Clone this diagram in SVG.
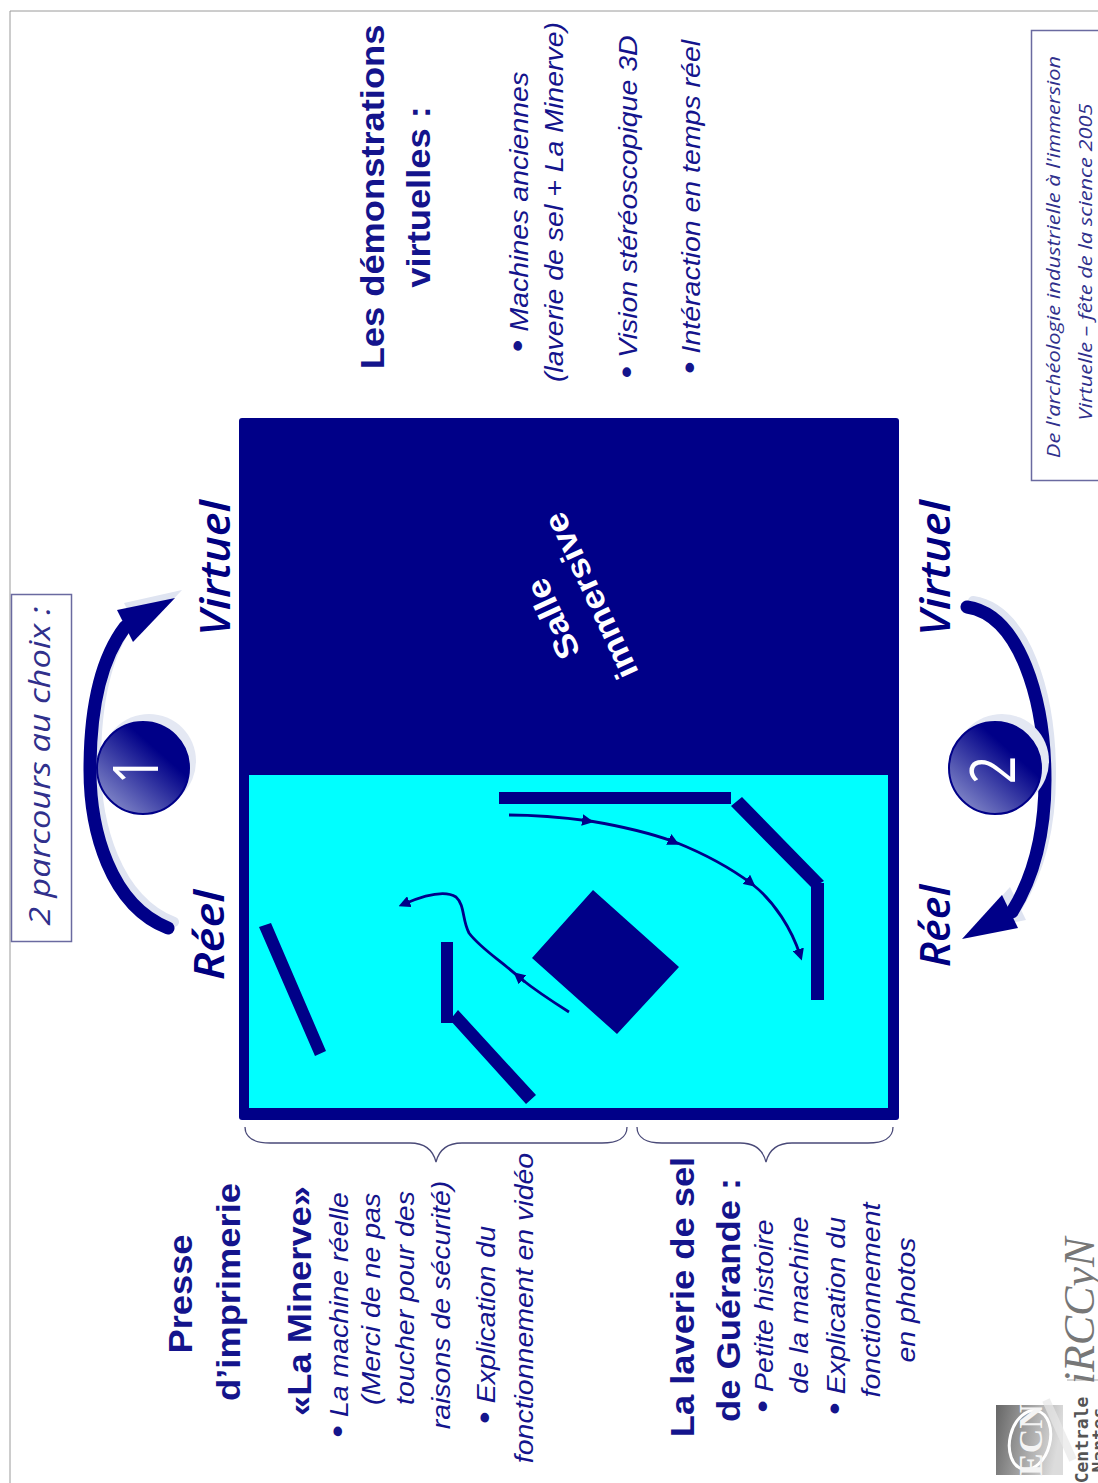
<svg xmlns="http://www.w3.org/2000/svg" width="1098" height="1483" viewBox="0 0 1098 1483">
<style>
text{fill:#14148c;text-anchor:middle}
.h{font:bold 33px "Liberation Sans",Arial,sans-serif}
.b{font:italic 25px "Liberation Sans",Arial,sans-serif}
.d{font-size:32px;font-style:normal}
.v{font:italic 600 41px "Open Sans",sans-serif;fill:#000080}
.n{font:italic 30px "Open Sans",sans-serif;fill:#30308c}
.f{font:italic 18.500px "Open Sans",sans-serif;fill:#30308c}
.navy{fill:#000088}
.sh{fill:none;stroke:#dfe4f1;stroke-width:10;stroke-linecap:round}
.ar{fill:none;stroke:#000088;stroke-width:13;stroke-linecap:round}
.thin{fill:none;stroke:#000088;stroke-width:2.800}
.br{fill:none;stroke:#4a4a78;stroke-width:1.300}
.box{fill:#fff;stroke:#6a6aa0;stroke-width:1.500}
.room{font:bold 33px "Liberation Sans",sans-serif;fill:#fff}
.dg{font:62px "Open Sans",sans-serif;fill:#fff}
</style>
<defs>
<linearGradient id="ball" x1="0.85" y1="0.1" x2="0.1" y2="0.95"><stop offset="0.25" stop-color="#000088"/><stop offset="1" stop-color="#8a90cc"/></linearGradient>
<linearGradient id="logo" x1="0" y1="0" x2="1" y2="0.2"><stop offset="0" stop-color="#666"/><stop offset="1" stop-color="#dcdcdc"/></linearGradient>
<marker id="tri" viewBox="0 0 10 10" refX="5" refY="5" markerWidth="4.200" markerHeight="4.200" orient="auto" markerUnits="strokeWidth"><path d="M0 0L10 5L0 10z" fill="#000088"/></marker>
</defs>
<rect width="1098" height="1483" fill="#fff"/>
<path d="M10 1483V11H1098" fill="none" stroke="#9a9a9a" stroke-width="1"/>

<g id="title-box"><rect class="box" x="11.500" y="594.500" width="60" height="347"/><text class="n" transform="translate(50 766) rotate(-90) scale(1.15 1)">2 parcours au choix :</text></g>
<g id="footer-box"><rect class="box" x="1031.500" y="30.500" width="70" height="450"/><text class="f" transform="translate(1060 257) rotate(-90) scale(1.18 1)">De l'archéologie industrielle à l'immersion</text><text class="f" transform="translate(1092 262) rotate(-90) scale(1.18 1)">Virtuelle – fête de la science 2005</text></g>

<g id="room">
<rect class="navy" x="239" y="418" width="660" height="702" rx="3"/>
<rect x="249" y="775" width="639" height="333" fill="#00ffff"/>
<text class="room" transform="translate(563 614) rotate(-115) scale(1.1 1)">Salle</text>
<text class="room" transform="translate(601 591) rotate(-115) scale(1.1 1)">immersive</text>
<path class="navy" d="M499 792H731V804H499zM731 806L742 797L824 881L812 888zM811 883H824V1000H811zM593 890L679 967L617 1034L532 958zM441 942H453V1023H441zM458 1010L536 1095L526 1104L450 1020zM259 927L271 923L326 1051L315 1056z"/>
</g>

<g id="connectors">
<path class="thin" d="M509 815C540 815 560 817 590 821C620 826 650 833 675 842C700 852 728 866 752 884C775 902 792 930 800 955" marker-end="url(#tri)"/>
<path class="thin" d="M582 820L588 821" marker-end="url(#tri)"/>
<path class="thin" d="M668 839L674 842" marker-end="url(#tri)"/>
<path class="thin" d="M746 879L751 883" marker-end="url(#tri)"/>
<path class="thin" d="M569 1012C550 1000 535 990 520 978C500 960 480 948 469 933C462 920 465 905 456 897C445 890 425 895 404 904" marker-end="url(#tri)"/>
<path class="thin" d="M525 982L518 976" marker-end="url(#tri)"/>
<g id="arrow-1">
<path class="sh" d="M174 922C116 899 96 824 96 764C96 704 106 654 131 621"/>
<path fill="#dfe4f1" d="M182 590L124 603L140 635z"/>
<path class="ar" d="M168 928C110 905 90 830 90 770C90 710 100 660 125 627"/>
<path class="navy" d="M175 598L117 610L133 642z"/>
</g>
<g id="arrow-2">
<path class="sh" d="M973 601C1026 609 1051 694 1051 774C1051 824 1041 869 1018 906"/>
<path fill="#dfe4f1" d="M970 931L1010 887L1026 920z"/>
<path class="ar" d="M967 607C1020 615 1045 700 1045 780C1045 830 1035 875 1012 912"/>
<path class="navy" d="M962 939L1002 895L1018 928z"/>
</g>
<path class="br" d="M245 1127C245 1138 255 1143 270 1143H410C425 1143 433 1150 436 1162C439 1150 447 1143 462 1143H602C617 1143 627 1138 627 1127"/>
<path class="br" d="M637 1127C637 1138 647 1143 662 1143H740C755 1143 763 1150 766 1162C769 1150 777 1143 792 1143H868C883 1143 893 1138 893 1127"/>
</g>

<g id="ball-1"><circle cx="149" cy="761" r="47" fill="#e4e8f3"/><circle cx="143" cy="768" r="46" fill="url(#ball)" stroke="#000088" stroke-width="2"/><text class="dg" transform="translate(158 770) rotate(-90) scale(.8 1)">1</text></g>
<g id="ball-2"><circle cx="1002" cy="761" r="47" fill="#e4e8f3"/><circle cx="995" cy="768" r="46" fill="url(#ball)" stroke="#000088" stroke-width="2"/><text class="dg" transform="translate(1015 770) rotate(-90) scale(.8 1)">2</text></g>

<g id="labels">
<text class="v" transform="translate(230 568) rotate(-90) scale(1.1 1)">Virtuel</text>
<text class="v" transform="translate(224 935) rotate(-90) scale(1.15 1)">Réel</text>
<text class="v" transform="translate(950 568) rotate(-90) scale(1.1 1)">Virtuel</text>
<text class="v" transform="translate(950 926) rotate(-90) scale(1.05 1)">Réel</text>
</g>

<g id="text-demos">
<text class="h" transform="translate(384 197) rotate(-90) scale(1.1 1)">Les démonstrations</text>
<text class="h" transform="translate(430 197) rotate(-90) scale(1.1 1)">virtuelles :</text>
<text class="b" transform="translate(528 212) rotate(-90) scale(1.14 1)"><tspan class="d">•</tspan> Machines anciennes</text>
<text class="b" transform="translate(563 202) rotate(-90) scale(1.14 1)">(laverie de sel + La Minerve)</text>
<text class="b" transform="translate(637 207) rotate(-90) scale(1.14 1)"><tspan class="d">•</tspan> Vision stéréoscopique 3D</text>
<text class="b" transform="translate(700 207) rotate(-90) scale(1.14 1)"><tspan class="d">•</tspan> Intéraction en temps réel</text>
</g>
<g id="text-presse">
<text class="h" transform="translate(192 1294) rotate(-90) scale(1.1 1)">Presse</text>
<text class="h" transform="translate(240 1292) rotate(-90) scale(1.1 1)">d’imprimerie</text>
<text class="h" transform="translate(311 1301) rotate(-90) scale(1.1 1)">«La Minerve»</text>
<text class="b" transform="translate(348 1315) rotate(-90) scale(1.14 1)"><tspan class="d">•</tspan> La machine réelle</text>
<text class="b" transform="translate(380 1299) rotate(-90) scale(1.14 1)">(Merci de ne pas</text>
<text class="b" transform="translate(414 1298) rotate(-90) scale(1.14 1)">toucher pour des</text>
<text class="b" transform="translate(450 1305) rotate(-90) scale(1.14 1)">raisons de sécurité)</text>
<text class="b" transform="translate(495 1325) rotate(-90) scale(1.14 1)"><tspan class="d">•</tspan> Explication du</text>
<text class="b" transform="translate(533 1308) rotate(-90) scale(1.14 1)">fonctionnement en vidéo</text>
</g>
<g id="text-laverie">
<text class="h" transform="translate(694 1297) rotate(-90) scale(1.1 1)">La laverie de sel</text>
<text class="h" transform="translate(740 1300) rotate(-90) scale(1.1 1)">de Guérande :</text>
<text class="b" transform="translate(773 1316) rotate(-90) scale(1.14 1)"><tspan class="d">•</tspan> Petite histoire</text>
<text class="b" transform="translate(808 1305) rotate(-90) scale(1.14 1)">de la machine</text>
<text class="b" transform="translate(845 1316) rotate(-90) scale(1.14 1)"><tspan class="d">•</tspan> Explication du</text>
<text class="b" transform="translate(880 1300) rotate(-90) scale(1.14 1)">fonctionnement</text>
<text class="b" transform="translate(915 1300) rotate(-90) scale(1.14 1)">en photos</text>
</g>

<g id="logos">
<rect x="996" y="1405" width="67" height="70" fill="url(#logo)"/>
<path d="M1046 1400L1073 1460" stroke="#e8e8e8" stroke-width="8" opacity=".7"/>
<ellipse cx="1030" cy="1440" rx="20" ry="30" fill="none" stroke="#fff" stroke-width="3" transform="rotate(14 1030 1440)"/>
<text transform="translate(1042 1440) rotate(-90)" style="font:bold 34px 'Liberation Serif',serif;fill:#f4f4f4">ECN</text>
<text transform="translate(1088 1440) rotate(-90)" style="font:bold 18px 'DejaVu Sans Mono',monospace;fill:#555">Centrale</text>
<text transform="translate(1105 1440) rotate(-90)" style="font:bold 18px 'DejaVu Sans Mono',monospace;fill:#555">Nantes</text>
<path d="M1067 1380H1098" stroke="#aaa"/>
<text transform="translate(1094 1311) rotate(-90)" style="font:italic 44px 'Liberation Serif',serif;fill:#777">iRCCyN</text>
</g>
</svg>
